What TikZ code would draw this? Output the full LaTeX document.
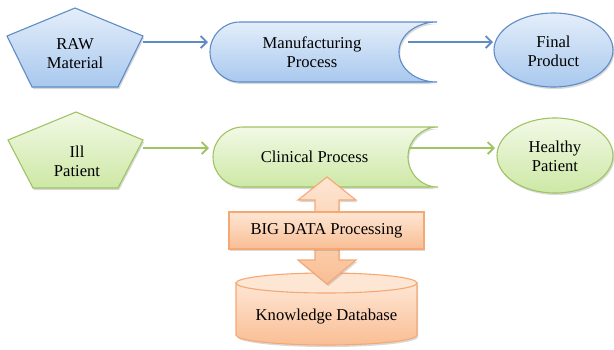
\documentclass[tikz,border=0pt]{standalone}
\usepackage{fontspec}
\setmainfont{Liberation Serif}
\usetikzlibrary{arrows.meta,shadows}
\definecolor{bdblue}{RGB}{95,140,198}
\definecolor{bluetop}{RGB}{228,238,250}
\definecolor{bluebot}{RGB}{168,200,238}
\definecolor{bdgreen}{RGB}{160,195,100}
\definecolor{greentop}{RGB}{242,249,230}
\definecolor{greenbot}{RGB}{205,232,165}
\definecolor{bdorange}{RGB}{246,168,115}
\definecolor{orangetop}{RGB}{254,230,212}
\definecolor{orangebot}{RGB}{249,190,148}
\tikzset{
  shd/.style={drop shadow={shadow xshift=1.2pt,shadow yshift=-2pt,opacity=0.25,fill=black!60}},
  blueshape/.style={shd,draw=bdblue,line width=1.1pt,top color=bluetop,bottom color=bluebot},
  greenshape/.style={shd,draw=bdgreen,line width=1.1pt,top color=greentop,bottom color=greenbot},
  orangeshape/.style={shd,draw=bdorange,line width=1.1pt,top color=orangetop,bottom color=orangebot},
  lbl/.style={font=\fontsize{16.6}{19}\selectfont,align=center,inner sep=0pt},
  bluearrow/.style={draw=bdblue,line width=1.8pt,-{Straight Barb[length=6pt,width=12pt]}},
  greenarrow/.style={draw=bdgreen,line width=1.8pt,-{Straight Barb[length=6pt,width=12pt]}},
}
\begin{document}
\begin{tikzpicture}[x=1pt,y=-1pt]
\useasboundingbox (0,0) rectangle (614,349);
% ---------- blue row ----------
\path[blueshape] (75,8) -- (143,36) -- (118,87) -- (32,87) -- (7,36) -- cycle;
\node[lbl] (raw) at (75,54) {RAW\\Material};
\path[blueshape] (240,22)
  .. controls (223.4,22) and (210,35.4) .. (210,52)
  .. controls (210,68.6) and (223.4,82) .. (240,82)
  -- (437,82)
  .. controls (416,82) and (399,68.6) .. (399,52)
  .. controls (399,35.4) and (416,22) .. (437,22) -- cycle;
\node[lbl] (manu) at (312,52) {Manufacturing\\Process};
\path[blueshape] (553.5,50) ellipse [x radius=59.5pt, y radius=37pt];
\node[lbl] (final) at (553.5,51) {Final\\Product};
\coordinate (rawout) at (143,42);
\coordinate (manuin) at (208,42);
\coordinate (manuout) at (408,42);
\coordinate (finalin) at (493,42);
\draw[bluearrow] (rawout) -- (manuin);
\draw[bluearrow] (manuout) -- (finalin);
% ---------- green row ----------
\path[greenshape] (76,112) -- (143,140) -- (118,188) -- (33,188) -- (8,140) -- cycle;
\node[lbl] (ill) at (77,161) {Ill\\Patient};
\path[greenshape] (243,127)
  .. controls (226.4,127) and (213,140.4) .. (213,157)
  .. controls (213,173.6) and (226.4,187) .. (243,187)
  -- (438,187)
  .. controls (421.4,187) and (408,173.6) .. (408,157)
  .. controls (408,140.4) and (421.4,127) .. (438,127) -- cycle;
\node[lbl] (clin) at (314.5,157) {Clinical Process};
\path[greenshape] (555,155.5) ellipse [x radius=58pt, y radius=37.5pt];
\node[lbl] (healthy) at (555,156) {Healthy\\Patient};
\coordinate (illout) at (143,148);
\coordinate (clinin) at (209,148);
\coordinate (clinout) at (410,148);
\coordinate (healthyin) at (495,148);
\draw[greenarrow] (illout) -- (clinin);
\draw[greenarrow] (clinout) -- (healthyin);
% ---------- orange part ----------
\path[orangeshape] (236,283) -- (236,335) arc[start angle=180,end angle=360,x radius=90.5pt,y radius=10pt] -- (417,283) -- cycle;
\path[draw=bdorange,line width=1.1pt,fill=orangetop] (326.5,283) ellipse [x radius=90.5pt, y radius=10pt];
\node[lbl] (kdb) at (326.5,317) {Knowledge Database};
\path[orangeshape] (327,177) -- (356,200) -- (339,200) -- (339,260) -- (356,260) -- (327,284)
  -- (298,260) -- (315,260) -- (315,200) -- (298,200) -- cycle;
\node[orangeshape,lbl,minimum width=195pt,minimum height=37pt] (big) at (326.5,230.5) {BIG DATA Processing};
\end{tikzpicture}
\end{document}
